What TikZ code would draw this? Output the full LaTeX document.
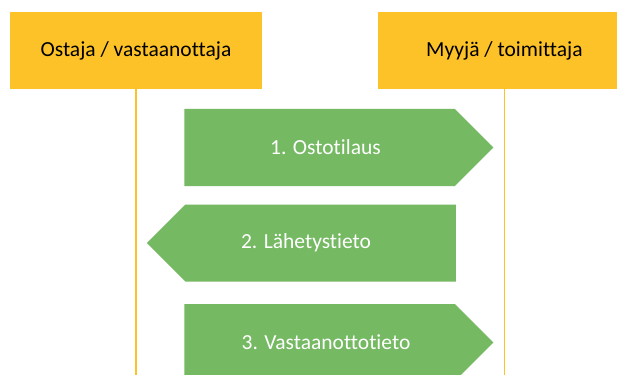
\documentclass[tikz,border=0pt]{standalone}
\usepackage{fontspec}
\setmainfont[Ligatures=NoCommon]{Carlito}
\usepackage{xcolor}
\definecolor{roleyellow}{RGB}{252, 194, 39}
\definecolor{msggreen}{RGB}{117, 185, 99}
\usepackage{tikz}
\usetikzlibrary{shapes.symbols, positioning}

\begin{document}
\begin{tikzpicture}[
        x=1pt, y=-1pt,
        node distance=116pt,
        actor/.style={
            rectangle,
            fill=roleyellow,
            minimum width=252pt,
            minimum height=77pt,
            inner sep=0pt,
            font=\fontsize{21.5}{26}\selectfont
        },
        message/.style={
            signal,
            signal pointer angle=90,
            signal from=nowhere,
            fill=msggreen,
            text=white,
            minimum width=309pt,
            minimum height=77pt,
            inner sep=0pt,
            font=\fontsize{21.5}{26}\selectfont
        },
        lifeline/.style={roleyellow, line width=1.5pt}
    ]
        \useasboundingbox (0,0) rectangle (617,374);
        \clip (0,0) rectangle (617,374);

        \node[actor] (buyer) at (136,50.5) {Ostaja / vastaanottaja};
        \node[actor, right=of buyer] (seller) {Myyjä / toimittaja};

        \coordinate (buyerend) at (buyer.south |- 0,380);
        \coordinate (sellerend) at (seller.south |- 0,380);
        \draw[lifeline] (buyer.south) -- (buyerend);
        \draw[lifeline] (seller.south) -- (sellerend);

        % text sits a little off the middle, as in the original slide
        \node[message, signal to=east] (order) at (319.5,147.5) {\hspace*{12pt}1. Ostotilaus};
        \node[message, signal to=west] (shipping) at (320.5,243) {2. Lähetystieto\hspace*{29pt}};
        \node[message, signal to=east] (receipt) at (319.5,342.5) {\hspace*{13pt}3. Vastaanottotieto};

    \end{tikzpicture}
\end{document}
